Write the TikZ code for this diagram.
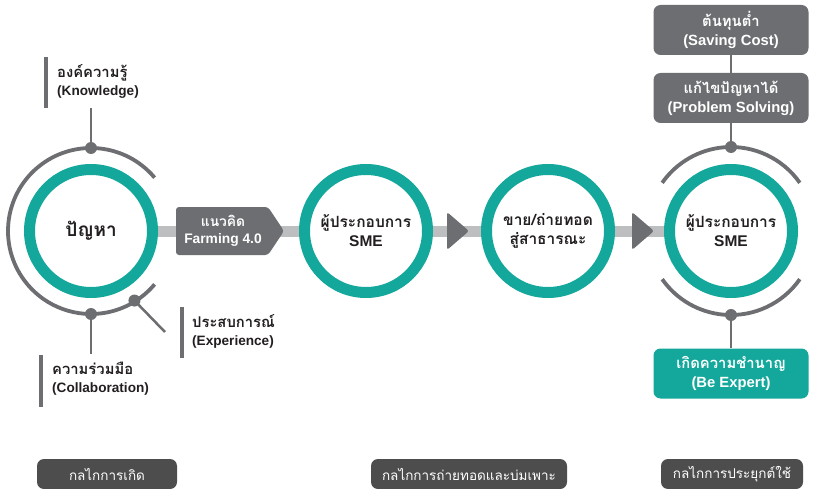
\documentclass[tikz,border=0pt]{standalone}
\usepackage{fontspec}
\setmainfont{Liberation Sans}
\newfontfamily\thai[Script=Thai]{Loma}
\usetikzlibrary{calc}
\definecolor{teal1}{HTML}{13A89B}
\definecolor{gray1}{HTML}{6D6E71}
\definecolor{bar1}{HTML}{BCBEC0}
\definecolor{dark1}{HTML}{4D4D4D}
\definecolor{ink}{HTML}{231F20}
\newcommand{\thailine}[1]{{\thai\fontsize{14.8}{18}\selectfont #1}}
\begin{document}
\begin{tikzpicture}[x=1pt,y=-1pt,
  ring/.style={circle, draw=teal1, line width=11pt, fill=white, minimum size=123pt,
    inner sep=0pt, align=center, text=ink, font=\bfseries\fontsize{15.5}{19}\selectfont},
  halo/.style={draw=gray1, line width=3.8pt},
  dot/.style={circle, fill=gray1, inner sep=0pt, minimum size=12pt},
  stem/.style={draw=gray1, line width=2.5pt},
  tag/.style={draw=gray1, line width=4.5pt},
  note/.style={anchor=north west, align=left, text=ink, inner sep=0pt,
    font=\bfseries\fontsize{13.6}{18}\selectfont},
  greybox/.style={rectangle, rounded corners=7pt, fill=gray1, text=white, align=center,
    minimum width=155pt, minimum height=50pt, inner sep=0pt,
    font=\bfseries\fontsize{14.8}{19}\selectfont},
  tealbox/.style={greybox, fill=teal1},
  phase/.style={rectangle, rounded corners=7pt, fill=dark1, text=white,
    minimum height=30pt, inner sep=0pt,
    font=\thai\fontsize{13.5}{15}\selectfont},
]
\useasboundingbox[fill=white] (0,0) rectangle (816,489);

% main flow: four circles on a light bar
\coordinate (p1) at (91,231);
\coordinate (p2) at (366,231);
\coordinate (p3) at (548,231);
\coordinate (p4) at (731,231);
\draw[bar1, line width=11pt] (p1) -- (p4);

% arrow box between the first two circles
\fill[gray1, rounded corners=3pt] (176,207) -- (268,207) -- (284,231) -- (268,255) -- (176,255) -- cycle;
\node[align=center, text=white, inner sep=0pt, font=\bfseries\fontsize{13.8}{17.5}\selectfont]
  (farm) at (223,231) {{\thai แนวคิด}\\Farming 4.0};

% arrow heads on the bar
\fill[gray1, rounded corners=2.5pt] (447,212) -- (469,231) -- (447,250) -- cycle;
\fill[gray1, rounded corners=2.5pt] (632,212) -- (654,231) -- (632,250) -- cycle;

\node[ring] (c1) at (p1) {\thai\fontsize{19}{22}\selectfont ปัญหา};
\node[ring] (c2) at (p2) {{\thai ผู้ประกอบการ}\\SME};
\node[ring] (c3) at (p3) {{\thai ขาย/ถ่ายทอด}\\{\thai สู่สาธารณะ}};
\node[ring] (c4) at (p4) {{\thai ผู้ประกอบการ}\\SME};

% outer arc round the first circle, with its three spokes
\draw[halo] ($(p1)+(-40:83)$) arc[start angle=-40, end angle=-320, radius=83];
\node[dot] (d1) at ($(p1)+(-90:83)$) {};
\node[dot] (d2) at ($(p1)+(90:83)$) {};
\node[dot] (d3) at ($(p1)+(58:82)$) {};
\coordinate (e1) at (91,108);
\coordinate (e2) at (91,354);
\coordinate (e3) at (165,332);
\draw[stem] (d1) -- (e1);
\draw[stem] (d2) -- (e2);
\draw[stem] (d3.center) -- (e3);

\node[note] (kn) at (57,64) {\thailine{องค์ความรู้}\\(Knowledge)};
\draw[tag] (46,57) -- (46,108);
\node[note] (co) at (52,362) {\thailine{ความร่วมมือ}\\(Collaboration)};
\draw[tag] (41,355) -- (41,407);
\node[note] (ex) at (192,314) {\thailine{ประสบการณ์}\\(Experience)};
\draw[tag] (182,307) -- (182,358);

% arcs round the last circle and its outcomes
\draw[halo] ($(p4)+(-35:84)$) arc[start angle=-35, end angle=-145, radius=84];
\draw[halo] ($(p4)+(35:84)$) arc[start angle=35, end angle=145, radius=84];
\node[dot] (d4) at ($(p4)+(-90:84)$) {};
\node[dot] (d5) at ($(p4)+(90:84)$) {};

\node[greybox] (sc) at (731,30) {{\thai ต้นทุนต่ำ}\\(Saving Cost)};
\node[greybox] (ps) at (731,98) {{\thai แก้ไขปัญหาได้}\\(Problem Solving)};
\node[tealbox] (be) at (731,373.5) {{\thai เกิดความชำนาญ}\\(Be Expert)};
\draw[stem] (sc) -- (ps);
\draw[stem] (ps) -- (d4);
\draw[stem] (d5) -- (be);

% phase labels along the bottom
\node[phase, minimum width=140pt] (m1) at (107,474) {กลไกการเกิด};
\node[phase, minimum width=196pt] (m2) at (469,474) {กลไกการถ่ายทอดและบ่มเพาะ};
\node[phase, minimum width=142pt] (m3) at (732,474) {กลไกการประยุกต์ใช้};
\end{tikzpicture}
\end{document}
